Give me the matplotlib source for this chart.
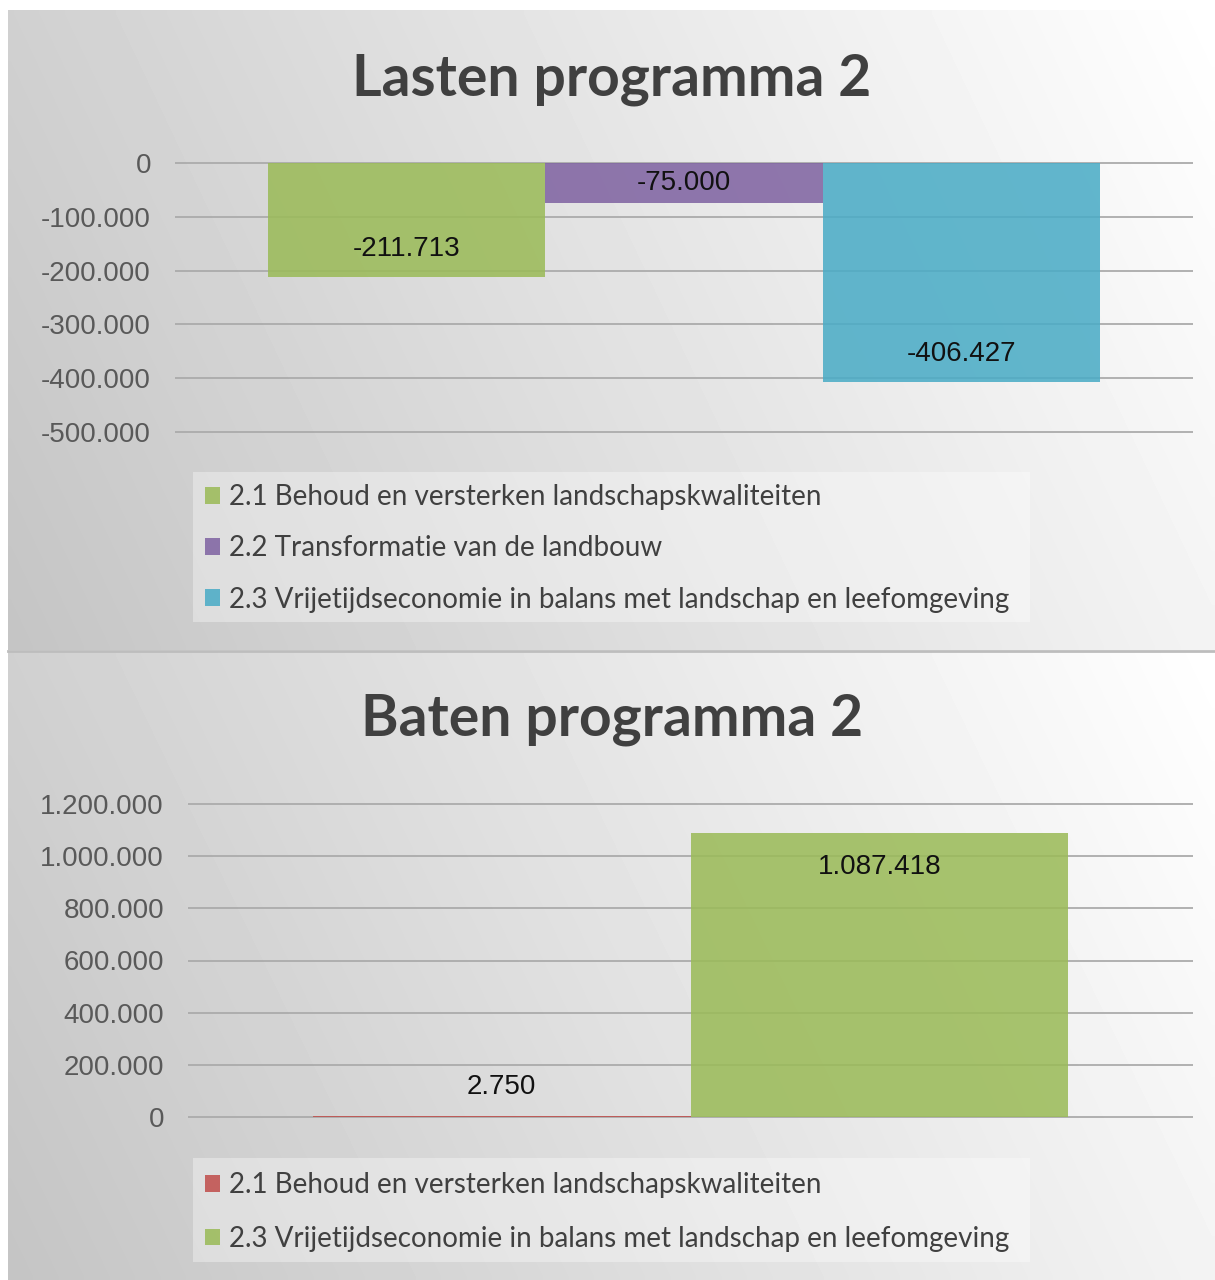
import numpy as np
import matplotlib
matplotlib.use("Agg")
import matplotlib.pyplot as plt
from matplotlib.patches import Rectangle
from matplotlib.ticker import FuncFormatter

# ---------------- data ----------------
lasten_title = "Lasten programma 2"
lasten_labels = [
    "2.1 Behoud en versterken landschapskwaliteiten",
    "2.2 Transformatie van de landbouw",
    "2.3 Vrijetijdseconomie in balans met landschap en leefomgeving",
]
lasten_values = [-211713, -75000, -406427]
lasten_colors = ["#9BBB59", "#8064A2", "#4BACC6"]
lasten_ticks = [0, -100000, -200000, -300000, -400000, -500000]

baten_title = "Baten programma 2"
baten_labels = [
    "2.1 Behoud en versterken landschapskwaliteiten",
    "2.3 Vrijetijdseconomie in balans met landschap en leefomgeving",
]
baten_values = [2750, 1087418]
baten_colors = ["#C0504D", "#9BBB59"]
baten_ticks = [0, 200000, 400000, 600000, 800000, 1000000, 1200000]

W, H = 1215, 1280
fig = plt.figure(figsize=(W / 100, H / 100), dpi=100)
fig.patch.set_facecolor("white")


def nl(v):
    s = f"{abs(v):,.0f}".replace(",", ".")
    return ("-" if v < 0 else "") + s


def rect_px(x0, y0, x1, y1):
    return [x0 / W, 1 - y1 / H, (x1 - x0) / W, (y1 - y0) / H]


def background(y0, y1):
    bg = fig.add_axes(rect_px(8, y0, W, y1), zorder=-10)
    nx, ny = 200, 100
    xs = np.linspace(0, 1, nx)[None, :]
    ys = np.linspace(0, 1, ny)[:, None]  # top->bottom
    t = 0.8 * xs + 0.2 * (1 - ys)
    g = 0.77 + 0.23 * t
    bg.imshow(g, cmap="gray", vmin=0, vmax=1, aspect="auto",
              extent=[0, 1, 0, 1], interpolation="bilinear")
    bg.set_axis_off()


def chart(title, title_y, labels, values, colors, ticks, ylim,
          x0, x1, zero_px, px_per_unit, width, legend_box, legend_anchor,
          labelspacing, label_off_px):
    top_px = zero_px - ylim[1] * px_per_unit
    bot_px = zero_px - ylim[0] * px_per_unit
    ax = fig.add_axes(rect_px(x0, top_px, x1, bot_px))
    ax.patch.set_alpha(0)
    n = len(values)
    handles = []
    for i, (v, c, lab) in enumerate(zip(values, colors, labels)):
        xpos = (i - (n - 1) / 2) * width
        b = ax.bar(xpos, v, width=width, color=c, alpha=0.87,
                   linewidth=0, label=lab, zorder=3)
        handles.append(b)
        # data label: inside end, or outside end if bar too short
        hpx = abs(v) * px_per_unit
        sign = 1 if v >= 0 else -1
        if hpx < 20:
            ly = v + sign * 29 / px_per_unit
        else:
            off = label_off_px / px_per_unit
            ly = v - sign * min(off, abs(v) / 2)
        ax.text(xpos, ly, nl(v), ha="center", va="center",
                fontsize=20, family="Liberation Sans", color="#111111",
                zorder=5)
    ax.set_xlim(-0.5, 0.5)
    ax.set_ylim(*ylim)
    ax.set_yticks(ticks)
    ax.yaxis.set_major_formatter(FuncFormatter(lambda v, p: nl(v)))
    ax.set_xticks([])
    ax.tick_params(axis="y", length=0, pad=17.3, labelsize=20,
                   labelcolor="#595959")
    for lbl in ax.get_yticklabels():
        lbl.set_family("Liberation Sans")
    ax.grid(axis="y", color="#ababab", linewidth=1.3, zorder=0)
    ax.set_axisbelow(True)
    for s in ax.spines.values():
        s.set_visible(False)

    fig.text(612 / W, 1 - title_y / H, title, ha="center", va="center",
             fontsize=41, fontweight="bold", family="Lato", color="#404040")

    bx0, by0, bx1, by1 = legend_box
    fig.patches.append(Rectangle((bx0 / W, 1 - by1 / H), (bx1 - bx0) / W,
                                 (by1 - by0) / H, transform=fig.transFigure,
                                 facecolor="white", alpha=0.35,
                                 edgecolor="none", zorder=1))
    leg = fig.legend(handles=handles, labels=labels, loc="upper left",
                     bbox_to_anchor=(legend_anchor[0] / W,
                                     1 - legend_anchor[1] / H),
                     bbox_transform=fig.transFigure, frameon=False,
                     borderpad=0, borderaxespad=0, handlelength=0.55,
                     handleheight=0.55, handletextpad=0.3,
                     labelspacing=labelspacing,
                     prop={"family": "Lato", "size": 20})
    for t in leg.get_texts():
        t.set_color("#404040")
    return ax


background(10, 650)
background(652, H)
fig.add_artist(plt.Line2D([8 / W, 1], [1 - 651 / H, 1 - 651 / H],
                          transform=fig.transFigure, color="#bdbdbd",
                          linewidth=2))

chart(lasten_title, 80, lasten_labels, lasten_values, lasten_colors,
      lasten_ticks, (-510000, 5000), 175, 1193, 163, 269 / 500000,
      0.2724, (193, 472, 1030, 622), (205, 484), 0.91, 28)

chart(baten_title, 720, baten_labels, baten_values, baten_colors,
      baten_ticks, (-25000, 1230000), 188, 1193, 1117, 313 / 1200000,
      0.376, (193, 1158, 1030, 1262), (205, 1172), 1.0, 34)

fig.savefig("out.png", dpi=100)
